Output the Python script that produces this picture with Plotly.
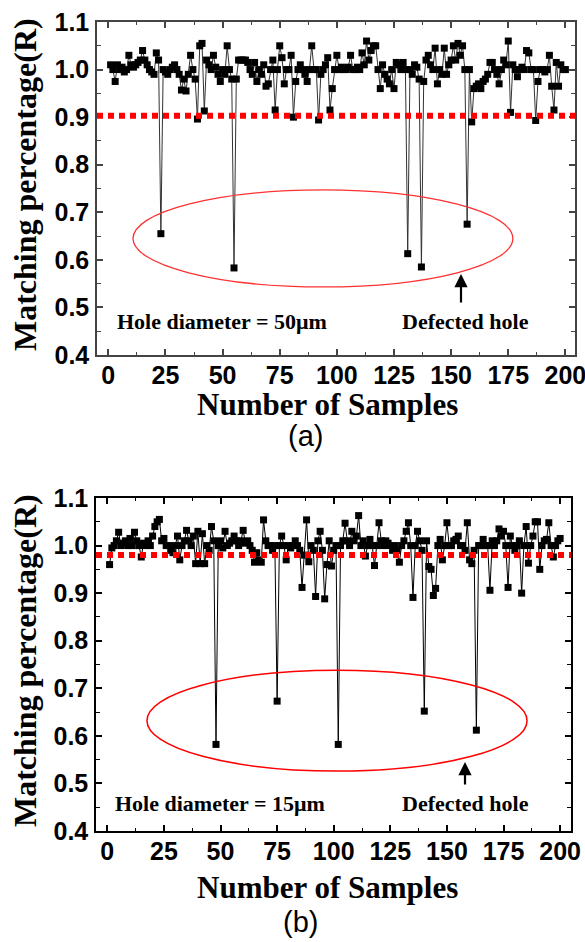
import plotly.graph_objects as go

samples = list(range(1, 201))

ratio_50um = [
    1.01, 1.00, 0.975, 1.01, 1.00, 1.005, 0.995, 1.00, 1.03, 1.01,
    1.005, 1.01, 1.015, 1.02, 1.04, 1.02, 1.01, 1.00, 0.995, 0.99,
    1.035, 1.02, 0.655, 1.00, 0.995, 0.99, 1.00, 1.005, 1.01, 1.00,
    0.99, 0.957, 0.98, 0.955, 0.99, 1.03, 1.00, 0.98, 0.896, 1.05,
    1.055, 0.913, 1.02, 1.01, 1.00, 1.03, 1.005, 0.99, 0.975, 1.00,
    0.99, 1.05, 1.00, 0.98, 0.583, 0.98, 1.02, 1.02, 1.02, 1.02,
    1.015, 1.00, 0.99, 1.015, 0.975, 1.00, 0.99, 1.01, 0.965, 0.97,
    1.00, 1.02, 0.915, 1.00, 1.05, 1.025, 0.97, 1.00, 1.00, 1.03,
    0.90, 0.975, 1.00, 1.01, 1.00, 0.99, 0.975, 1.00, 1.05, 1.00,
    1.00, 0.894, 0.99, 1.00, 1.01, 1.025, 0.915, 0.96, 1.00, 1.03,
    1.00, 1.005, 1.00, 1.00, 1.005, 1.03, 1.00, 1.00, 1.005, 1.00,
    1.035, 1.01, 1.06, 1.02, 1.04, 1.05, 1.05, 1.00, 0.96, 1.01,
    0.99, 0.98, 0.97, 1.00, 0.96, 1.015, 1.01, 1.00, 1.015, 1.00,
    0.613, 1.00, 0.99, 1.01, 1.005, 0.98, 0.585, 0.975, 1.02, 1.03,
    1.01, 1.00, 1.045, 0.97, 1.00, 0.99, 1.045, 0.99, 1.01, 1.02,
    1.05, 1.02, 1.055, 1.03, 1.05, 1.00, 0.675, 1.00, 0.89, 0.96,
    0.965, 0.97, 0.96, 0.975, 0.98, 0.99, 1.015, 1.015, 1.00, 0.99,
    0.97, 1.00, 1.02, 1.01, 1.06, 0.91, 1.01, 1.00, 0.985, 1.00,
    1.005, 1.00, 1.04, 1.035, 1.00, 1.00, 0.893, 0.975, 1.00, 1.00,
    0.995, 1.00, 1.03, 0.965, 0.915, 1.015, 0.965, 1.01, 1.00, 1.00,
]

ratio_15um = [
    0.96, 0.995, 1.00, 1.01, 1.028, 1.00, 1.005, 1.01, 1.00, 1.015,
    1.00, 1.028, 1.01, 1.00, 0.976, 1.005, 1.00, 1.01, 1.00, 1.02,
    1.04, 1.05, 1.055, 1.01, 1.015, 1.00, 1.00, 0.99, 0.985, 1.00,
    1.02, 0.97, 1.00, 1.01, 1.032, 1.01, 1.00, 1.02, 0.962, 1.03,
    0.962, 1.025, 0.962, 1.00, 0.99, 1.04, 1.01, 0.582, 1.00, 1.01,
    0.995, 1.03, 1.00, 1.005, 1.01, 1.02, 1.01, 1.00, 1.01, 1.032,
    1.005, 1.01, 1.00, 0.99, 0.965, 0.985, 0.97, 0.965, 1.054, 1.01,
    1.00, 1.00, 0.99, 1.00, 0.673, 1.00, 1.02, 1.00, 0.97, 1.00,
    0.995, 1.00, 1.01, 1.00, 0.99, 0.912, 0.98, 1.054, 0.966, 1.00,
    0.99, 0.893, 1.01, 1.03, 0.99, 0.888, 0.96, 1.01, 0.957, 0.99,
    1.00, 0.582, 1.00, 1.01, 1.047, 1.01, 1.00, 1.03, 1.01, 1.02,
    1.063, 1.00, 1.01, 0.978, 1.00, 1.013, 1.00, 0.958, 1.00, 1.048,
    1.01, 1.00, 1.01, 1.005, 1.00, 0.99, 1.00, 0.99, 0.965, 1.00,
    1.01, 1.03, 1.048, 1.00, 0.891, 1.00, 1.03, 1.01, 0.99, 0.652,
    1.01, 0.956, 0.95, 0.895, 0.91, 1.00, 1.013, 0.97, 1.00, 1.048,
    1.00, 1.00, 1.01, 1.013, 1.02, 1.00, 1.00, 0.99, 1.048, 0.97,
    0.962, 0.99, 0.612, 1.00, 1.00, 1.013, 1.00, 1.00, 0.906, 1.01,
    1.00, 1.01, 1.035, 1.02, 1.03, 1.00, 0.912, 1.02, 1.00, 0.99,
    1.00, 1.01, 0.90, 1.00, 1.04, 0.963, 1.00, 1.02, 1.05, 1.05,
    0.95, 1.00, 1.01, 1.013, 1.048, 1.00, 0.976, 1.00, 1.01, 1.015,
]

threshold_a = 0.903
threshold_b = 0.98
x_ticks = [0, 25, 50, 75, 100, 125, 150, 175, 200]
y_ticks = [0.4, 0.5, 0.6, 0.7, 0.8, 0.9, 1.0, 1.1]
y_tick_text = ["0.4", "0.5", "0.6", "0.7", "0.8", "0.9", "1.0", "1.1"]

W, H = 585, 942
fig = go.Figure()

fig.add_trace(go.Scatter(
    x=samples, y=ratio_50um, mode="lines+markers", xaxis="x", yaxis="y",
    line=dict(color="#333333", width=1),
    marker=dict(symbol="square", size=7, color="black"),
    showlegend=False,
))
fig.add_trace(go.Scatter(
    x=samples, y=ratio_15um, mode="lines+markers", xaxis="x2", yaxis="y2",
    line=dict(color="black", width=1),
    marker=dict(symbol="square", size=7, color="black"),
    showlegend=False,
))

tickfont = dict(family="Liberation Sans, Arial", size=25, color="black", weight="bold")


def xaxis_cfg(domain, anchor, rng, lc):
    return dict(
        domain=domain, anchor=anchor, range=rng, automargin=False,
        tickmode="array", tickvals=x_ticks, ticktext=[str(t) for t in x_ticks],
        ticks="inside", ticklen=6, tickwidth=1.5, tickcolor=lc,
        minor=dict(ticks="inside", ticklen=3, tickwidth=1.2, tickcolor=lc,
                   tickvals=[12.5 + 25 * i for i in range(8)], showgrid=False),
        showline=True, linecolor=lc, linewidth=1.5, mirror="ticks",
        showgrid=False, zeroline=False, tickfont=tickfont,
        ticklabelstandoff=-3, ticklabeloverflow="allow",
    )


def yaxis_cfg(domain, anchor, lc):
    return dict(
        domain=domain, anchor=anchor, range=[0.4, 1.1], automargin=False,
        tickmode="array", tickvals=y_ticks, ticktext=y_tick_text,
        ticks="inside", ticklen=6, tickwidth=1.5, tickcolor=lc,
        minor=dict(ticks="inside", ticklen=4, tickwidth=1.2, tickcolor=lc,
                   tickvals=[0.45, 0.55, 0.65, 0.75, 0.85, 0.95, 1.05], showgrid=False),
        showline=True, linecolor=lc, linewidth=1.5, mirror="ticks",
        showgrid=False, zeroline=False, tickfont=tickfont,
        ticklabelstandoff=1, ticklabeloverflow="allow",
    )


fig.update_layout(
    width=W, height=H,
    margin=dict(l=0, r=0, t=0, b=0, autoexpand=False),
    paper_bgcolor="white", plot_bgcolor="white",
    xaxis=xaxis_cfg([97 / W, 575 / W], "y", [-4.95, 204.2], "#444444"),
    yaxis=yaxis_cfg([1 - 355 / H, 1 - 22 / H], "x", "#444444"),
    xaxis2=xaxis_cfg([96 / W, 571 / W], "y2", [-5.0, 204.8], "black"),
    yaxis2=yaxis_cfg([1 - 831 / H, 1 - 498 / H], "x2", "black"),
)

# threshold dotted lines
for xr, yr, val in [("x", "y", threshold_a), ("x2", "y2", threshold_b)]:
    fig.add_shape(type="line", xref=f"{xr} domain", yref=yr, x0=0, x1=1, y0=val, y1=val,
                  line=dict(color="#FF0000", width=6, dash="6px,5px"), layer="above")

# ellipses
fig.add_shape(type="circle", xref="x", yref="y", x0=10.8, x1=177, y0=0.543, y1=0.747,
              line=dict(color="#FF3030", width=1.3))
fig.add_shape(type="circle", xref="x2", yref="y2", x0=17.5, x1=185.4, y0=0.526, y1=0.738,
              line=dict(color="#FF0000", width=1.5))

serif_bold = dict(family="Liberation Serif, Times New Roman", color="black", weight="bold")


def ann(text, x, y, size, font=None, angle=0):
    f = dict(serif_bold if font is None else font)
    f["size"] = size
    fig.add_annotation(text=text, x=x / W, y=1 - y / H, xref="paper", yref="paper",
                       showarrow=False, font=f, textangle=angle,
                       xanchor="center", yanchor="middle")


# axis titles
ann("Matching percentage(R)", 25, 185, 32, angle=-90)
ann("Matching percentage(R)", 25, 661, 32, angle=-90)
ann("Number of Samples", 327, 404, 31)
ann("Number of Samples", 327, 887, 31)

# in-plot labels
ann("Hole diameter = 50μm", 222, 322, 22)
ann("Defected hole", 466, 322, 22)
ann("Hole diameter = 15μm", 220, 803, 22)
ann("Defected hole", 466, 803, 22)

# panel labels
plain = dict(family="Liberation Sans, Arial", color="black")
ann("(a)", 305, 436, 29, font=plain)
ann("(b)", 301, 922, 29, font=plain)

# arrows
for xa, y_tail, y_head in [(461, 304, 274), (465, 786, 762)]:
    fig.add_annotation(x=xa / W, y=1 - y_head / H, ax=0, ay=y_tail - y_head,
                       xref="paper", yref="paper", axref="pixel", ayref="pixel",
                       text="", showarrow=True, arrowhead=2, arrowsize=1.2,
                       arrowwidth=2.2, arrowcolor="black")

fig.write_html("out.html", config={"displayModeBar": False},
               post_script="document.body.style.margin='0';document.body.style.overflow='hidden';")
